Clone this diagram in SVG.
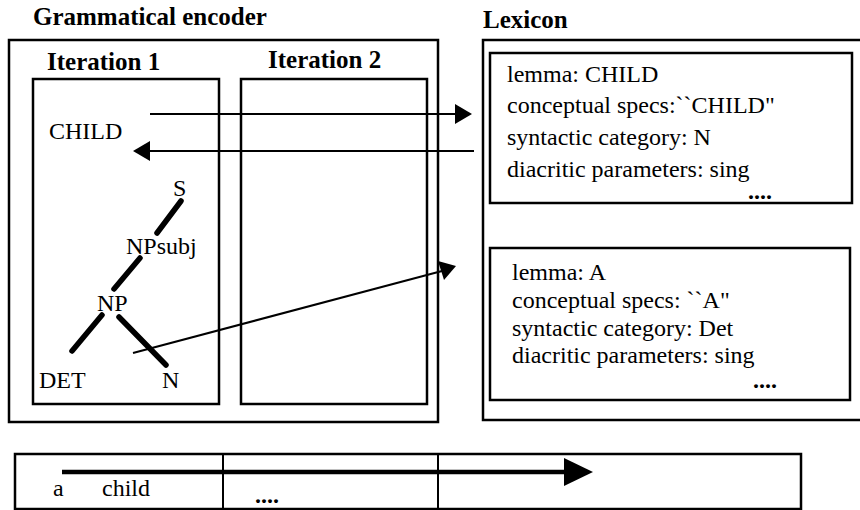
<svg xmlns="http://www.w3.org/2000/svg" width="860" height="510" viewBox="0 0 860 510">
<style>
.box{fill:none;stroke:#000;stroke-width:2.5}
.t{font-family:"Liberation Serif","Times New Roman",serif;font-size:24px;fill:#000}
.b{font-family:"Liberation Serif","Times New Roman",serif;font-size:25px;font-weight:bold;fill:#000}
.dots{font-family:"Liberation Serif","Times New Roman",serif;font-size:24px;font-weight:bold;fill:#000}
.conn{stroke:#000;stroke-width:2;fill:none}
.tree{stroke:#000;stroke-width:5.5;stroke-linecap:round}
.head{fill:#000}
</style>
<rect width="860" height="510" fill="#fff"/>
<g id="encoder">
<rect class="box" x="9" y="40" width="429" height="382"/>
<text class="b" x="33" y="25">Grammatical encoder</text>
</g>
<g id="iteration1">
<rect class="box" x="33" y="79" width="186" height="325"/>
<text class="b" x="47" y="70">Iteration 1</text>
<text class="t" x="49" y="139">CHILD</text>
<text class="t" x="173" y="196">S</text>
<text class="t" x="126" y="254">NPsubj</text>
<text class="t" x="97" y="311">NP</text>
<text class="t" x="39" y="388">DET</text>
<text class="t" x="162" y="388">N</text>
<line class="tree" x1="181" y1="201" x2="157" y2="233"/>
<line class="tree" x1="140" y1="258" x2="114" y2="289"/>
<line class="tree" x1="102" y1="315" x2="72" y2="351"/>
<line class="tree" x1="119" y1="317" x2="166" y2="365"/>
</g>
<g id="iteration2">
<rect class="box" x="241" y="79" width="186" height="325"/>
<text class="b" x="268" y="68">Iteration 2</text>
</g>
<g id="lexicon">
<path class="box" d="M864 40 H483 V420 H864"/>
<text class="b" x="483" y="28">Lexicon</text>
</g>
<g id="entry-child">
<rect class="box" x="490" y="53" width="362" height="150"/>
<text class="t" x="507" y="82">lemma: CHILD</text>
<text class="t" x="507" y="113">conceptual specs:``CHILD"</text>
<text class="t" x="507" y="145">syntactic category: N</text>
<text class="t" x="507" y="177">diacritic parameters: sing</text>
<text class="dots" x="748" y="199">....</text>
</g>
<g id="entry-a">
<rect class="box" x="490" y="248" width="360" height="152"/>
<text class="t" x="512" y="280">lemma: A</text>
<text class="t" x="512" y="308">conceptual specs: ``A"</text>
<text class="t" x="512" y="336">syntactic category: Det</text>
<text class="t" x="512" y="363">diacritic parameters: sing</text>
<text class="dots" x="753" y="388">....</text>
</g>
<g id="output">
<rect class="box" x="15" y="454" width="786" height="55"/>
<line x1="223" y1="454" x2="223" y2="509" stroke="#000" stroke-width="2"/>
<line x1="438" y1="454" x2="438" y2="509" stroke="#000" stroke-width="2"/>
<text class="t" x="53" y="496">a</text>
<text class="t" x="102" y="496">child</text>
<text class="dots" x="255" y="503">....</text>
</g>
<g id="connectors">
<line class="conn" x1="150" y1="114" x2="457" y2="114"/>
<polygon class="head" points="455,104 472,114 455,124"/>
<line class="conn" x1="474" y1="151" x2="148" y2="151"/>
<polygon class="head" points="150,141 133,151 150,161"/>
<line class="conn" x1="133" y1="353" x2="442" y2="271"/>
<polygon class="head" points="438,261 456,266 444,280"/>
<line x1="62" y1="472" x2="567" y2="472" stroke="#000" stroke-width="4.5"/>
<polygon class="head" points="564,458 593,472 564,486"/>
</g>
</svg>
